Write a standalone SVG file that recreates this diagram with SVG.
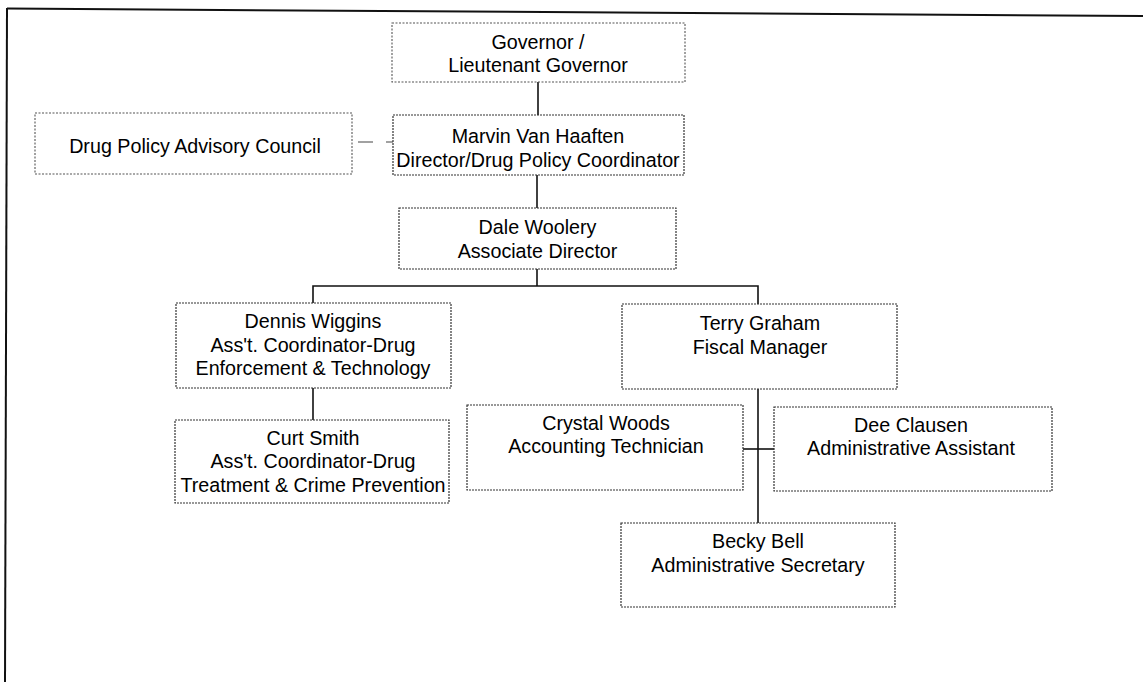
<svg xmlns="http://www.w3.org/2000/svg" width="1143" height="682" viewBox="0 0 1143 682">
<style>
.box{fill:#fff;stroke:#333;stroke-width:1.2;stroke-dasharray:2 1}
.lbox{fill:#fff;stroke:#555;stroke-width:1.1;stroke-dasharray:2 1.5}
.t{font-family:"Liberation Sans",Arial,sans-serif;font-size:19.7px;fill:#000;text-anchor:middle}
.c{stroke:#111;stroke-width:1.6;fill:none}
.frame{stroke:#111;stroke-width:2;fill:none}
</style>
<rect width="1143" height="682" fill="#fff"/>
<g id="frame">
<line class="frame" x1="7" y1="8.5" x2="1143" y2="16"/>
<line class="frame" x1="7" y1="8" x2="5" y2="682"/>
</g>
<g id="connectors">
<line class="c" x1="538" y1="82" x2="538" y2="115"/>
<line class="c" x1="537" y1="175" x2="537" y2="208"/>
<line class="c" x1="537" y1="269" x2="537" y2="286"/>
<polyline class="c" points="313,303 313,286 758,286 758,304"/>
<line class="c" x1="313" y1="388" x2="313" y2="420"/>
<line class="c" x1="758" y1="389" x2="758" y2="523"/>
<line class="c" x1="743" y1="449" x2="774" y2="449"/>
<line x1="358" y1="142" x2="393" y2="142" stroke="#444" stroke-width="1.2" stroke-dasharray="15 13"/>
</g>
<g id="governor">
<rect class="lbox" x="392" y="23" width="293" height="59"/>
<text class="t" x="538" y="49">Governor /</text>
<text class="t" x="538" y="72">Lieutenant Governor</text>
</g>
<g id="council">
<rect class="lbox" x="35" y="113" width="317" height="61"/>
<text class="t" x="195" y="153">Drug Policy Advisory Council</text>
</g>
<g id="marvin">
<rect class="box" x="393" y="115" width="291" height="60"/>
<text class="t" x="538" y="143">Marvin Van Haaften</text>
<text class="t" x="538" y="167">Director/Drug Policy Coordinator</text>
</g>
<g id="dale">
<rect class="box" x="399" y="208" width="277" height="61"/>
<text class="t" x="537.5" y="234">Dale Woolery</text>
<text class="t" x="537.5" y="258">Associate Director</text>
</g>
<g id="dennis">
<rect class="box" x="176" y="303" width="275" height="85"/>
<text class="t" x="313" y="328">Dennis Wiggins</text>
<text class="t" x="313" y="352">Ass't. Coordinator-Drug</text>
<text class="t" x="313" y="375">Enforcement &amp; Technology</text>
</g>
<g id="curt">
<rect class="box" x="175" y="420" width="274" height="83"/>
<text class="t" x="313" y="445">Curt Smith</text>
<text class="t" x="313" y="468">Ass't. Coordinator-Drug</text>
<text class="t" x="313" y="492">Treatment &amp; Crime Prevention</text>
</g>
<g id="terry">
<rect class="box" x="622" y="304" width="275" height="85"/>
<text class="t" x="760" y="330">Terry Graham</text>
<text class="t" x="760" y="354">Fiscal Manager</text>
</g>
<g id="crystal">
<rect class="box" x="467" y="405" width="276" height="85"/>
<text class="t" x="606" y="430">Crystal Woods</text>
<text class="t" x="606" y="453">Accounting Technician</text>
</g>
<g id="dee">
<rect class="box" x="774" y="407" width="278" height="84"/>
<text class="t" x="911" y="432">Dee Clausen</text>
<text class="t" x="911" y="455">Administrative Assistant</text>
</g>
<g id="becky">
<rect class="box" x="621" y="523" width="274" height="84"/>
<text class="t" x="758" y="548">Becky Bell</text>
<text class="t" x="758" y="572">Administrative Secretary</text>
</g>
</svg>
